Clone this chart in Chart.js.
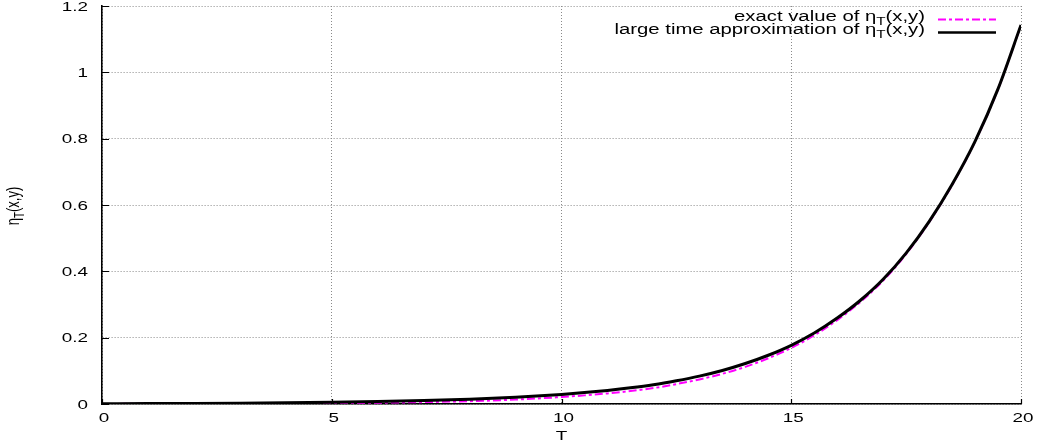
<!DOCTYPE html>
<html>
<head>
<meta charset="utf-8">
<script src="https://cdn.jsdelivr.net/npm/chart.js@4.4.1/dist/chart.umd.min.js"></script>
<style>
  html, body { margin: 0; padding: 0; background: #fff; }
  #wrap { width: 1039px; height: 445px; }
</style>
</head>
<body>
<div id="wrap"><canvas id="c" width="1039" height="445"></canvas></div>
<script>
// Time values T and the two evaluations of eta_T(x,y)
const timeT = [0, 1, 2, 3, 4, 5, 6, 7, 8, 9, 10, 10.5, 11, 11.5, 12, 12.5, 13, 13.5, 14, 14.5, 15, 15.5, 16, 16.5, 17, 17.5, 18, 18.5, 19, 19.5, 20];
const etaExact = [0.0003, 0.0005, 0.0007, 0.0011, 0.0017, 0.0025, 0.0038, 0.0057, 0.0086, 0.0133, 0.021, 0.026, 0.032, 0.039, 0.048, 0.060, 0.074, 0.091, 0.112, 0.138, 0.169, 0.207, 0.253, 0.307, 0.372, 0.452, 0.548, 0.660, 0.791, 0.949, 1.142];
const etaLargeTime = [0.0009, 0.0013, 0.0018, 0.0025, 0.0036, 0.0051, 0.0072, 0.0102, 0.0145, 0.0205, 0.029, 0.0345, 0.041, 0.0487, 0.058, 0.070, 0.084, 0.101, 0.122, 0.147, 0.177, 0.214, 0.259, 0.312, 0.376, 0.455, 0.550, 0.662, 0.792, 0.950, 1.143];

const xTicks = [0, 5, 10, 15, 20];
const xTickLabels = ['0', '5', '10', '15', '20'];
const yTicks = [0, 0.2, 0.4, 0.6, 0.8, 1, 1.2];
const yTickLabels = ['0', '0.2', '0.4', '0.6', '0.8', '1', '1.2'];
const seriesNames = ['exact value of ', 'large time approximation of '];
const xTitle = 'T';

const FONT = '"Liberation Sans", Arial, sans-serif';
const FSIZE = 13;
const LEGEND_SIZE = 14;
const STRETCH = 1.45;   // horizontal stretch of the lettering

function toPoints(xs, ys) { return xs.map((x, i) => ({ x: x, y: ys[i] })); }

// Text with an eta_T(x,y) suffix: subscript T lowered and smaller
function etaParts(prefix, size) {
  return [
    { t: prefix + '\u03B7', size: size, dy: 0 },
    { t: 'T', size: size * 0.75, dy: 3.5 },
    { t: '(x,y)', size: size, dy: 0 }
  ];
}
function partsWidth(ctx, parts) {
  let w = 0;
  for (const p of parts) { ctx.font = p.size + 'px ' + FONT; w += ctx.measureText(p.t).width; }
  return w;
}
function drawParts(ctx, parts, x) {
  let cx = x;
  for (const p of parts) {
    ctx.font = p.size + 'px ' + FONT;
    ctx.fillText(p.t, cx, p.dy);
    cx += ctx.measureText(p.t).width;
  }
}
function stretchedText(ctx, str, x, y, align, baseline) {
  ctx.save();
  ctx.translate(x, y);
  ctx.scale(STRETCH, 1);
  ctx.font = FSIZE + 'px ' + FONT;
  ctx.textAlign = align;
  ctx.textBaseline = baseline;
  ctx.fillText(str, 0, 0);
  ctx.restore();
}

const decorations = {
  id: 'decorations',
  afterDraw(chart) {
    const ctx = chart.ctx;
    const xs = chart.scales.x, ys = chart.scales.y;
    const area = chart.chartArea;
    ctx.save();
    ctx.fillStyle = '#000';
    ctx.strokeStyle = '#000';
    ctx.lineWidth = 1.2;

    // inward tick marks
    ctx.beginPath();
    yTicks.forEach(v => {
      const py = Math.round(ys.getPixelForValue(v)) + 0.5;
      ctx.moveTo(area.left, py); ctx.lineTo(area.left + 7, py);
    });
    xTicks.forEach(v => {
      const px = Math.round(xs.getPixelForValue(v)) + 0.5;
      ctx.moveTo(px, area.bottom); ctx.lineTo(px, area.bottom - 5);
    });
    ctx.stroke();

    // tick labels
    yTicks.forEach((v, i) => {
      stretchedText(ctx, yTickLabels[i], area.left - 14, ys.getPixelForValue(v) + 1, 'right', 'middle');
    });
    xTicks.forEach((v, i) => {
      stretchedText(ctx, xTickLabels[i], xs.getPixelForValue(v) + 2, area.bottom + 14, 'center', 'middle');
    });

    // x axis title
    stretchedText(ctx, xTitle, (area.left + area.right) / 2, area.bottom + 32, 'center', 'middle');

    // y axis title, rotated
    ctx.save();
    ctx.textBaseline = 'alphabetic';
    ctx.textAlign = 'left';
    const yParts = etaParts('', FSIZE);
    const yw = partsWidth(ctx, yParts);
    ctx.translate(19, 206);
    ctx.rotate(-Math.PI / 2);
    ctx.scale(1, STRETCH);
    drawParts(ctx, yParts, -yw / 2);
    ctx.restore();

    // legend
    const legendRight = 925;
    const rows = [
      { parts: etaParts(seriesNames[0], LEGEND_SIZE), base: 21, lineY: 19.5, color: '#ff00ff', width: 2, dash: [8, 3, 3, 3] },
      { parts: etaParts(seriesNames[1], LEGEND_SIZE), base: 34, lineY: 32.5, color: '#000000', width: 2.5, dash: [] }
    ];
    rows.forEach(r => {
      ctx.save();
      ctx.textBaseline = 'alphabetic';
      ctx.textAlign = 'left';
      const w = partsWidth(ctx, r.parts);
      ctx.translate(legendRight, r.base);
      ctx.scale(STRETCH, 1);
      drawParts(ctx, r.parts, -w);
      ctx.restore();
      ctx.save();
      ctx.strokeStyle = r.color;
      ctx.lineWidth = r.width;
      ctx.setLineDash(r.dash);
      ctx.beginPath();
      ctx.moveTo(938, r.lineY); ctx.lineTo(996, r.lineY);
      ctx.stroke();
      ctx.restore();
    });
    ctx.restore();
  }
};

new Chart(document.getElementById('c'), {
  type: 'line',
  data: {
    datasets: [
      {
        label: seriesNames[0] + '\u03B7T(x,y)',
        data: toPoints(timeT, etaExact),
        borderColor: '#ff00ff',
        borderWidth: 2,
        borderDash: [8, 3, 3, 3],
        pointRadius: 0,
        cubicInterpolationMode: 'monotone',
        fill: false,
        order: 1
      },
      {
        label: seriesNames[1] + '\u03B7T(x,y)',
        data: toPoints(timeT, etaLargeTime),
        borderColor: '#000000',
        borderWidth: 3,
        pointRadius: 0,
        cubicInterpolationMode: 'monotone',
        fill: false,
        order: 0
      }
    ]
  },
  options: {
    responsive: false,
    devicePixelRatio: 1,
    animation: false,
    events: [],
    layout: { padding: { left: 102, right: 18, top: 6, bottom: 41 } },
    plugins: { legend: { display: false }, tooltip: { enabled: false } },
    scales: {
      x: {
        type: 'linear', min: 0, max: 20,
        afterBuildTicks: s => { s.ticks = xTicks.map(v => ({ value: v })); },
        ticks: { display: false },
        grid: { color: '#8a8a8a', lineWidth: 1, drawTicks: false },
        border: { display: true, color: '#000', width: 1.6, dash: [1, 2] }
      },
      y: {
        type: 'linear', min: 0, max: 1.2,
        afterBuildTicks: s => { s.ticks = yTicks.map(v => ({ value: v })); },
        ticks: { display: false },
        grid: { color: '#8a8a8a', lineWidth: 1, drawTicks: false },
        border: { display: true, color: '#000', width: 1.6, dash: [1, 2] }
      }
    }
  },
  plugins: [decorations]
});
</script>
</body>
</html>
